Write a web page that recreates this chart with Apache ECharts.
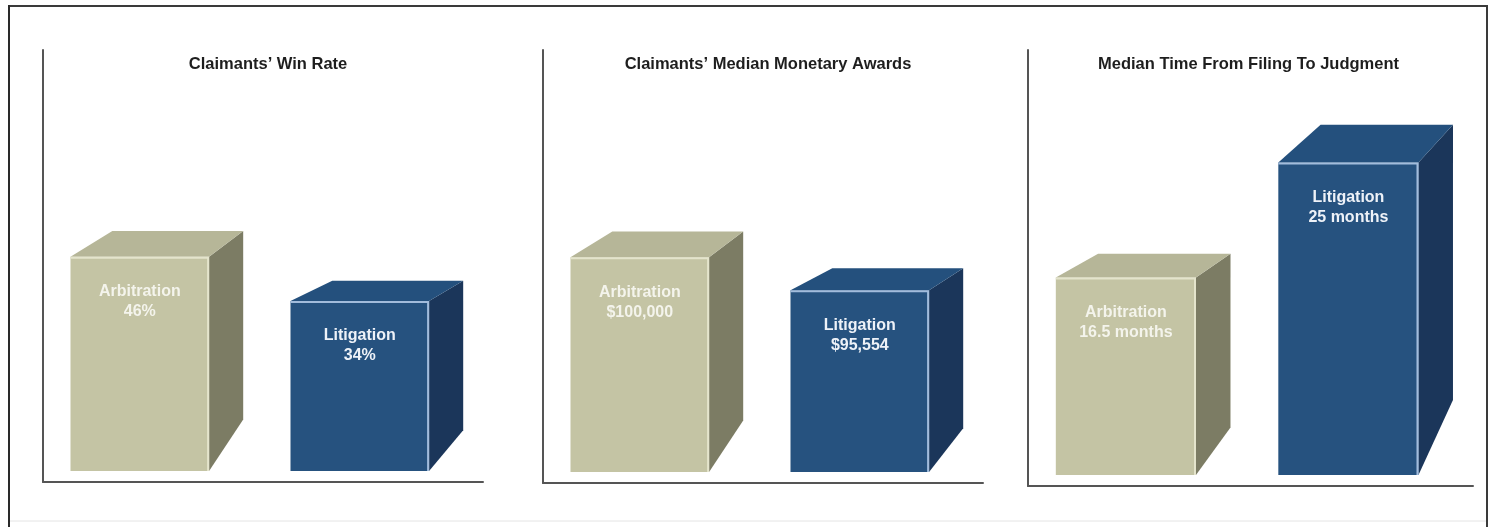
<!DOCTYPE html>
<html>
<head>
<meta charset="utf-8">
<script src="https://cdn.jsdelivr.net/npm/echarts@6/dist/echarts.min.js"></script>
<style>
html,body{margin:0;padding:0;background:#fff;}
#chart{width:1491px;height:527px;}
</style>
</head>
<body>
<div id="chart"></div>
<script>
// ---- data ----
const categories = ['Arbitration', 'Litigation'];
const winRate = [46, 34];              // percent
const medianAwards = [100000, 95554];  // dollars
const medianMonths = [16.5, 25];       // months
const panelTitles = [
  'Claimants\u2019 Win Rate',
  'Claimants\u2019 Median Monetary Awards',
  'Median Time From Filing To Judgment'
];

// ---- styling ----
const FONT = '"Liberation Sans", Arial, Helvetica, sans-serif';
const palette = [
  { front: '#c4c4a4', top: '#b6b698', side: '#7c7c64', edge: '#e4e4cc', text: '#f4f4ec' },
  { front: '#26527f', top: '#24507d', side: '#1b365a', edge: '#a2bcdc', text: '#eef2f8' }
];
const formatters = [
  v => v + '%',
  v => '$' + v.toLocaleString('en-US'),
  v => v + ' months'
];
const grids = [
  { left: 43, top: 50, width: 440, height: 432 },
  { left: 543, top: 50, width: 440, height: 433 },
  { left: 1028, top: 50, width: 445, height: 436 }
];
const yRanges = [
  { min: -15, max: 102 },
  { min: 69500, max: 128000 },
  { min: 1.1, max: 33.3 }
];
const seriesValues = [winRate, medianAwards, medianMonths];

function makeRender(panel) {
  return function (params, api) {
    const idx = api.value(0);
    const val = api.value(1);
    const pt = api.coord([idx, val]);
    const band = api.size([1, 0])[0];
    const cs = params.coordSys;
    const baseY = cs.y + cs.height - 11;
    const bandStart = pt[0] - band / 2;
    const xl = bandStart + 0.125 * band;
    const w = 0.63 * band;
    const xr = xl + w;
    const top = pt[1];
    const h = baseY - top;
    const dxR = 0.155 * band;
    const dxL = 0.19 * band;
    const dyTop = 0.12 * h;
    const dyBot = 0.24 * h;
    const c = palette[idx];
    return {
      type: 'group',
      children: [
        { type: 'polygon', shape: { points: [[xr, top], [xr + dxR, top - dyTop], [xr + dxR, baseY - dyBot], [xr, baseY]] },
          style: { fill: c.side } },
        { type: 'polygon', shape: { points: [[xl, top], [xr, top], [xr + dxR, top - dyTop], [xl + dxL, top - dyTop]] },
          style: { fill: c.top } },
        { type: 'rect', shape: { x: xl, y: top, width: w, height: h }, style: { fill: c.front } },
        { type: 'polyline', shape: { points: [[xl, top + 1], [xr - 1, top + 1], [xr - 1, baseY]] },
          style: { stroke: c.edge, lineWidth: 2, fill: null } },
        { type: 'text', style: {
            text: categories[idx] + '\n' + formatters[panel](val),
            x: xl + w / 2, y: top + 25,
            align: 'center', verticalAlign: 'top',
            fontFamily: FONT, fontSize: 16, fontWeight: 'bold', lineHeight: 20,
            fill: c.text } }
      ]
    };
  };
}

const option = {
  backgroundColor: '#ffffff',
  animation: false,
  title: panelTitles.map((t, i) => ({
    text: t,
    left: grids[i].left + grids[i].width / 2 + (i === 2 ? -2 : 5),
    top: 56,
    padding: 0,
    textAlign: 'center',
    textStyle: { fontFamily: FONT, fontSize: 16.5, fontWeight: 'bold', color: '#1e1e1e' }
  })),
  grid: grids,
  xAxis: grids.map((g, i) => ({
    type: 'category', gridIndex: i, data: categories,
    axisLine: { show: true, onZero: false, lineStyle: { color: '#555', width: 2 } },
    axisTick: { show: false }, axisLabel: { show: false }, splitLine: { show: false }
  })),
  yAxis: grids.map((g, i) => ({
    type: 'value', gridIndex: i, min: yRanges[i].min, max: yRanges[i].max,
    axisLine: { show: true, lineStyle: { color: '#555', width: 2 } },
    axisTick: { show: false }, axisLabel: { show: false }, splitLine: { show: false }
  })),
  series: seriesValues.map((vals, i) => ({
    type: 'custom', xAxisIndex: i, yAxisIndex: i,
    renderItem: makeRender(i),
    data: vals.map((v, k) => [k, v])
  })),
  graphic: [
    { type: 'line', shape: { x1: 8, y1: 6, x2: 1488, y2: 6 }, style: { stroke: '#3a3a3a', lineWidth: 2 } },
    { type: 'line', shape: { x1: 9, y1: 5, x2: 9, y2: 527 }, style: { stroke: '#2a2a2a', lineWidth: 2 } },
    { type: 'line', shape: { x1: 1487, y1: 5, x2: 1487, y2: 527 }, style: { stroke: '#3a3a3a', lineWidth: 2 } },
    { type: 'line', shape: { x1: 10, y1: 521, x2: 1486, y2: 521 }, style: { stroke: '#e4e4e4', lineWidth: 1 } }
  ]
};

const chart = echarts.init(document.getElementById('chart'), null, { renderer: 'canvas' });
chart.setOption(option);
</script>
</body>
</html>
